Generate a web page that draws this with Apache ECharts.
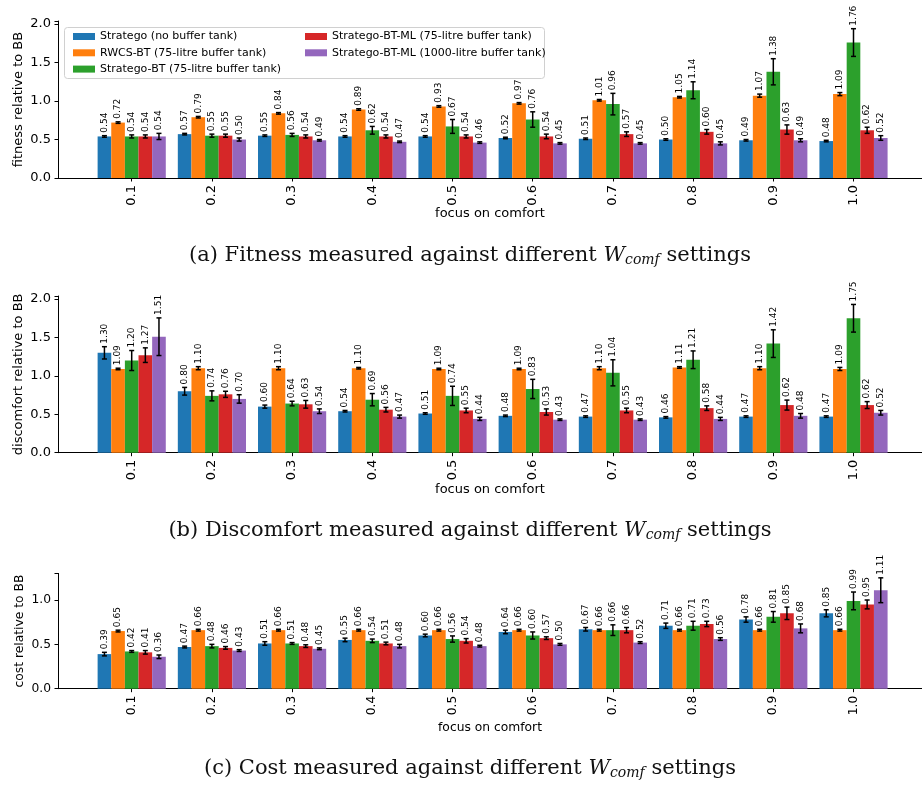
<!DOCTYPE html>
<html>
<head>
<meta charset="utf-8">
<script src="https://cdn.jsdelivr.net/npm/echarts@6/dist/echarts.min.js"></script>
<style>
  html, body { margin: 0; padding: 0; background: #fff; }
  #chart { width: 922px; height: 785px; }
</style>
</head>
<body>
<div id="chart"></div>
<script>
const categories = ['0.1', '0.2', '0.3', '0.4', '0.5', '0.6', '0.7', '0.8', '0.9', '1.0']
const methods = [
  'Stratego (no buffer tank)',
  'RWCS-BT (75-litre buffer tank)',
  'Stratego-BT (75-litre buffer tank)',
  'Stratego-BT-ML (75-litre buffer tank)',
  'Stratego-BT-ML (1000-litre buffer tank)'
]
const colors = ['#1f77b4', '#ff7f0e', '#2ca02c', '#d62728', '#9467bd']

// one row per method, one column per focus-on-comfort setting
const fitnessMean = [
  [0.54, 0.57, 0.55, 0.54, 0.54, 0.52, 0.51, 0.50, 0.49, 0.48],
  [0.72, 0.79, 0.84, 0.89, 0.93, 0.97, 1.01, 1.05, 1.07, 1.09],
  [0.54, 0.55, 0.56, 0.62, 0.67, 0.76, 0.96, 1.14, 1.38, 1.76],
  [0.54, 0.55, 0.54, 0.54, 0.54, 0.54, 0.57, 0.60, 0.63, 0.62],
  [0.54, 0.50, 0.49, 0.47, 0.46, 0.45, 0.45, 0.45, 0.49, 0.52]
]
const fitnessErr = [
  [0.01, 0.01, 0.01, 0.01, 0.01, 0.01, 0.01, 0.01, 0.01, 0.01],
  [0.01, 0.01, 0.01, 0.01, 0.01, 0.01, 0.01, 0.01, 0.02, 0.02],
  [0.02, 0.02, 0.02, 0.05, 0.09, 0.10, 0.14, 0.11, 0.17, 0.18],
  [0.02, 0.02, 0.02, 0.02, 0.02, 0.03, 0.03, 0.03, 0.06, 0.04],
  [0.04, 0.02, 0.01, 0.01, 0.01, 0.01, 0.01, 0.02, 0.02, 0.03]
]
const discomfortMean = [
  [1.30, 0.80, 0.60, 0.54, 0.51, 0.48, 0.47, 0.46, 0.47, 0.47],
  [1.09, 1.10, 1.10, 1.10, 1.09, 1.09, 1.10, 1.11, 1.10, 1.09],
  [1.20, 0.74, 0.64, 0.69, 0.74, 0.83, 1.04, 1.21, 1.42, 1.75],
  [1.27, 0.76, 0.63, 0.56, 0.55, 0.53, 0.55, 0.58, 0.62, 0.62],
  [1.51, 0.70, 0.54, 0.47, 0.44, 0.43, 0.43, 0.44, 0.48, 0.52]
]
const discomfortErr = [
  [0.08, 0.05, 0.02, 0.01, 0.01, 0.01, 0.01, 0.01, 0.01, 0.01],
  [0.01, 0.02, 0.02, 0.01, 0.01, 0.01, 0.02, 0.01, 0.02, 0.02],
  [0.13, 0.065, 0.03, 0.08, 0.125, 0.125, 0.17, 0.115, 0.18, 0.18],
  [0.095, 0.04, 0.05, 0.03, 0.03, 0.04, 0.03, 0.03, 0.065, 0.045],
  [0.245, 0.055, 0.03, 0.02, 0.02, 0.01, 0.01, 0.02, 0.03, 0.03]
]
const costMean = [
  [0.39, 0.47, 0.51, 0.55, 0.60, 0.64, 0.67, 0.71, 0.78, 0.85],
  [0.65, 0.66, 0.66, 0.66, 0.66, 0.66, 0.66, 0.66, 0.66, 0.66],
  [0.42, 0.48, 0.51, 0.54, 0.56, 0.60, 0.66, 0.71, 0.81, 0.99],
  [0.41, 0.46, 0.48, 0.51, 0.54, 0.57, 0.66, 0.73, 0.85, 0.95],
  [0.36, 0.43, 0.45, 0.48, 0.48, 0.50, 0.52, 0.56, 0.68, 1.11]
]
const costErr = [
  [0.02, 0.01, 0.02, 0.02, 0.015, 0.02, 0.02, 0.03, 0.03, 0.04],
  [0.01, 0.01, 0.01, 0.01, 0.01, 0.01, 0.01, 0.01, 0.01, 0.01],
  [0.01, 0.02, 0.01, 0.02, 0.035, 0.04, 0.06, 0.05, 0.06, 0.10],
  [0.02, 0.015, 0.015, 0.015, 0.025, 0.015, 0.03, 0.03, 0.07, 0.05],
  [0.02, 0.01, 0.01, 0.02, 0.01, 0.01, 0.01, 0.015, 0.05, 0.14]
]

const FONT = 'DejaVu Sans'
const SERIF = 'DejaVu Serif'

const panels = [
  { mean: fitnessMean, err: fitnessErr, yName: 'fitness relative to BB', yMax: 2.04,
    top: 21, axisY: 178, font: 13, nameGap: 29, yNameGap: 33, capY: 256,
    caption: '(a) Fitness measured against different ' },
  { mean: discomfortMean, err: discomfortErr, yName: 'discomfort relative to BB', yMax: 2.04,
    top: 296, axisY: 452.7, font: 13, nameGap: 30, yNameGap: 33, capY: 531,
    caption: '(b) Discomfort measured against different ' },
  { mean: costMean, err: costErr, yName: 'cost relative to BB', yMax: 1.3,
    top: 573.4, axisY: 688.7, font: 12.3, nameGap: 33, yNameGap: 32, capY: 769,
    caption: '(c) Cost measured against different ' }
]

const grid = []
const xAxis = []
const yAxis = []
const series = []

panels.forEach((p, i) => {
  const h = p.axisY - p.top
  const frame = i * 2
  const bars = i * 2 + 1
  grid.push({ left: 58, right: 0, top: p.top, height: h })
  grid.push({ left: 91.6, width: 802, top: p.top, height: h })

  xAxis.push({
    type: 'value', gridIndex: frame, min: 0, max: 1,
    axisLine: { show: true, lineStyle: { color: '#000', width: 1 } },
    axisTick: { show: false }, axisLabel: { show: false }, splitLine: { show: false },
    name: 'focus on comfort', nameLocation: 'middle', nameGap: p.nameGap,
    nameTextStyle: { fontFamily: FONT, fontSize: p.font, color: '#000' }
  })
  xAxis.push({
    type: 'category', gridIndex: bars, data: categories,
    axisLine: { show: false },
    axisTick: { show: true, alignWithLabel: true, length: 3.5, lineStyle: { color: '#000' } },
    axisLabel: { rotate: 90, margin: 7, fontFamily: FONT, fontSize: p.font, color: '#000' }
  })
  yAxis.push({
    type: 'value', gridIndex: frame, min: 0, max: p.yMax, interval: 0.5,
    axisLine: { show: true, lineStyle: { color: '#000', width: 1 } },
    axisTick: { show: true, length: 3.5, lineStyle: { color: '#000' } },
    splitLine: { show: false },
    axisLabel: {
      margin: 7, fontFamily: FONT, fontSize: p.font, color: '#000',
      formatter: v => Math.abs(v * 2 - Math.round(v * 2)) < 1e-6 ? v.toFixed(1) : ''
    },
    name: p.yName, nameLocation: 'middle', nameGap: p.yNameGap, nameMoveOverlap: false,
    nameTextStyle: { fontFamily: FONT, fontSize: p.font, color: '#000' }
  })
  yAxis.push({ type: 'value', gridIndex: bars, min: 0, max: p.yMax, show: false })

  p.mean.forEach((row, k) => {
    series.push({
      name: methods[k], type: 'bar', xAxisIndex: bars, yAxisIndex: bars,
      data: row, barWidth: '17%', barGap: '0%',
      itemStyle: { color: colors[k] }, animation: false
    })
  })

  const errData = []
  p.mean.forEach((row, k) => {
    row.forEach((v, c) => errData.push([c, k, v, p.err[k][c]]))
  })
  series.push({
    type: 'custom', xAxisIndex: bars, yAxisIndex: bars, z: 5,
    encode: { x: 0, y: 2 }, data: errData, animation: false, silent: true,
    renderItem(params, api) {
      const c = api.value(0)
      const k = api.value(1)
      const v = api.value(2)
      const e = api.value(3)
      const bw = api.size([1, 0])[0] * 0.17
      const x = api.coord([c, 0])[0] + (k - 2) * bw
      const yTop = api.coord([c, v + e])[1]
      const yBot = api.coord([c, v - e])[1]
      const cap = 2.5
      const ls = { stroke: '#000', lineWidth: 1.5 }
      return {
        type: 'group',
        children: [
          { type: 'line', shape: { x1: x, y1: yTop, x2: x, y2: yBot }, style: ls },
          { type: 'line', shape: { x1: x - cap, y1: yTop, x2: x + cap, y2: yTop }, style: ls },
          { type: 'line', shape: { x1: x - cap, y1: yBot, x2: x + cap, y2: yBot }, style: ls },
          {
            type: 'text', x: x, y: yTop - 3, rotation: Math.PI / 2,
            style: {
              text: v.toFixed(2), align: 'left', verticalAlign: 'middle',
              fontFamily: FONT, fontSize: 9, fill: '#000'
            }
          }
        ]
      }
    }
  })
})

const legendText = { fontFamily: FONT, fontSize: 11, color: '#000' }

const graphic = [
  {
    type: 'rect', z: 3,
    shape: { x: 64.5, y: 27.5, width: 480, height: 51, r: 3 },
    style: { fill: 'rgba(255,255,255,0.8)', stroke: '#d0d0d0', lineWidth: 1 }
  }
]
panels.forEach(p => {
  graphic.push({
    type: 'text', x: 470, y: p.capY, z: 10,
    style: {
      text: '{t|' + p.caption + '}{w|W}{s|comf}{t| settings}',
      align: 'center', verticalAlign: 'middle',
      rich: {
        t: { fontFamily: SERIF, fontSize: 21, fill: '#111' },
        w: { fontFamily: SERIF, fontSize: 21, fontStyle: 'italic', fill: '#111' },
        s: { fontFamily: SERIF, fontSize: 14, fontStyle: 'italic', fill: '#111', padding: [9, 0, 0, 0] }
      }
    }
  })
})

const chart = echarts.init(document.getElementById('chart'))
chart.setOption({
  animation: false,
  backgroundColor: '#fff',
  grid: grid,
  xAxis: xAxis,
  yAxis: yAxis,
  legend: [
    {
      data: methods.slice(0, 3), orient: 'vertical', left: 68, top: 26,
      itemWidth: 22, itemHeight: 7, itemGap: 5.3, icon: 'rect',
      textStyle: legendText, selectedMode: false, z: 4
    },
    {
      data: methods.slice(3), orient: 'vertical', left: 300, top: 26,
      itemWidth: 22, itemHeight: 7, itemGap: 5.3, icon: 'rect',
      textStyle: legendText, selectedMode: false, z: 4
    }
  ],
  graphic: graphic,
  series: series
})
</script>
</body>
</html>
